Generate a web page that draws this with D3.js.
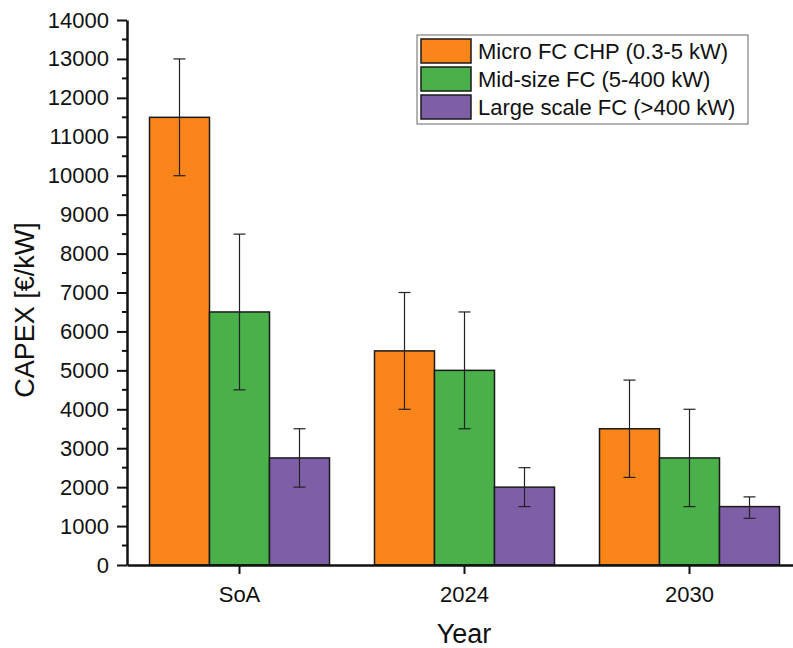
<!DOCTYPE html>
<html>
<head>
<meta charset="utf-8">
<script src="https://cdn.jsdelivr.net/npm/d3@7"></script>
<style>
  body { margin: 0; background: #fff; }
  text { font-family: "Liberation Sans", Arial, sans-serif; fill: #111; }
</style>
</head>
<body>
<script>
// data
const years = ["SoA", "2024", "2030"];
const seriesNames = ["Micro FC CHP (0.3-5 kW)", "Mid-size FC (5-400 kW)", "Large scale FC (>400 kW)"];
const seriesColors = ["#F8841A", "#49B04A", "#7F5EA8"];

const microValues = [11500, 5500, 3500];
const microLow = [10000, 4000, 2250];
const microHigh = [13000, 7000, 4750];

const midValues = [6500, 5000, 2750];
const midLow = [4500, 3500, 1500];
const midHigh = [8500, 6500, 4000];

const largeValues = [2750, 2000, 1500];
const largeLow = [2000, 1500, 1200];
const largeHigh = [3500, 2500, 1750];

const yTicks = d3.range(0, 14001, 1000);

const w = 793;
const h = 648;

// build rows for drawing
const series = [
  { name: seriesNames[0], color: seriesColors[0], v: microValues, lo: microLow, hi: microHigh },
  { name: seriesNames[1], color: seriesColors[1], v: midValues, lo: midLow, hi: midHigh },
  { name: seriesNames[2], color: seriesColors[2], v: largeValues, lo: largeLow, hi: largeHigh }
];
const bars = [];
years.forEach((yr, i) => {
  series.forEach((s, j) => {
    bars.push({ year: yr, key: j, color: s.color, value: s.v[i], lo: s.lo[i], hi: s.hi[i] });
  });
});

const x0 = d3.scaleBand().domain(years).range([127, 802]).paddingInner(0.2).paddingOuter(0.1);
const x1 = d3.scaleBand().domain([0, 1, 2]).range([0, x0.bandwidth()]);
const y = d3.scaleLinear().domain([0, 14000]).range([565, 20]);

const svg = d3.select("body").append("svg")
  .attr("width", w)
  .attr("height", h);

// bars
svg.selectAll("rect.bar")
  .data(bars)
  .enter()
  .append("rect")
  .attr("class", "bar")
  .attr("x", d => x0(d.year) + x1(d.key))
  .attr("y", d => y(d.value))
  .attr("width", x1.bandwidth())
  .attr("height", d => y(0) - y(d.value))
  .style("fill", d => d.color)
  .style("stroke", "#1a1a1a")
  .style("stroke-width", 1.5);

// error bars
const cap = 6;
const err = svg.append("g")
  .style("stroke", "#222")
  .style("stroke-width", 1.2);
bars.forEach(d => {
  const cx = x0(d.year) + x1(d.key) + x1.bandwidth() / 2;
  err.append("line").attr("x1", cx).attr("x2", cx).attr("y1", y(d.lo)).attr("y2", y(d.hi));
  err.append("line").attr("x1", cx - cap).attr("x2", cx + cap).attr("y1", y(d.hi)).attr("y2", y(d.hi));
  err.append("line").attr("x1", cx - cap).attr("x2", cx + cap).attr("y1", y(d.lo)).attr("y2", y(d.lo));
});

// y axis
const yAxis = svg.append("g")
  .attr("transform", "translate(127,0)")
  .call(d3.axisLeft(y).tickValues(yTicks).tickFormat(d3.format("d")).tickSize(10).tickSizeOuter(0).tickPadding(8));
yAxis.select(".domain").style("stroke", "#111").style("stroke-width", 2.5);
yAxis.selectAll(".tick line").style("stroke", "#111").style("stroke-width", 2);
yAxis.selectAll(".tick text").style("font-size", "22px");

// minor ticks
svg.append("g")
  .selectAll("line")
  .data(d3.range(500, 14000, 1000))
  .enter()
  .append("line")
  .attr("x1", 122).attr("x2", 127)
  .attr("y1", d => y(d)).attr("y2", d => y(d))
  .style("stroke", "#111")
  .style("stroke-width", 2);

// x axis
const xAxis = svg.append("g")
  .attr("transform", "translate(0,565)")
  .call(d3.axisBottom(x0).tickSize(9).tickSizeOuter(0).tickPadding(12));
xAxis.select(".domain").style("stroke", "#111").style("stroke-width", 2.5);
xAxis.selectAll(".tick line").style("stroke", "#111").style("stroke-width", 2);
xAxis.selectAll(".tick text").style("font-size", "22px");

// axis titles
svg.append("text")
  .attr("transform", "translate(34,310) rotate(-90)")
  .attr("text-anchor", "middle")
  .style("font-size", "27px")
  .text("CAPEX [€/kW]");

svg.append("text")
  .attr("x", 464)
  .attr("y", 643)
  .attr("text-anchor", "middle")
  .style("font-size", "27px")
  .text("Year");

// legend
const legend = svg.append("g");
legend.append("rect")
  .attr("x", 417).attr("y", 35)
  .attr("width", 331).attr("height", 89)
  .style("fill", "#fff")
  .style("stroke", "#666")
  .style("stroke-width", 1);
series.forEach((s, i) => {
  legend.append("rect")
    .attr("x", 421).attr("y", 39 + i * 28)
    .attr("width", 50).attr("height", 24)
    .style("fill", s.color)
    .style("stroke", "#1a1a1a")
    .style("stroke-width", 1.5);
  legend.append("text")
    .attr("x", 478).attr("y", 51 + i * 28)
    .attr("dy", "0.35em")
    .style("font-size", "22px")
    .text(s.name);
});
</script>
</body>
</html>
